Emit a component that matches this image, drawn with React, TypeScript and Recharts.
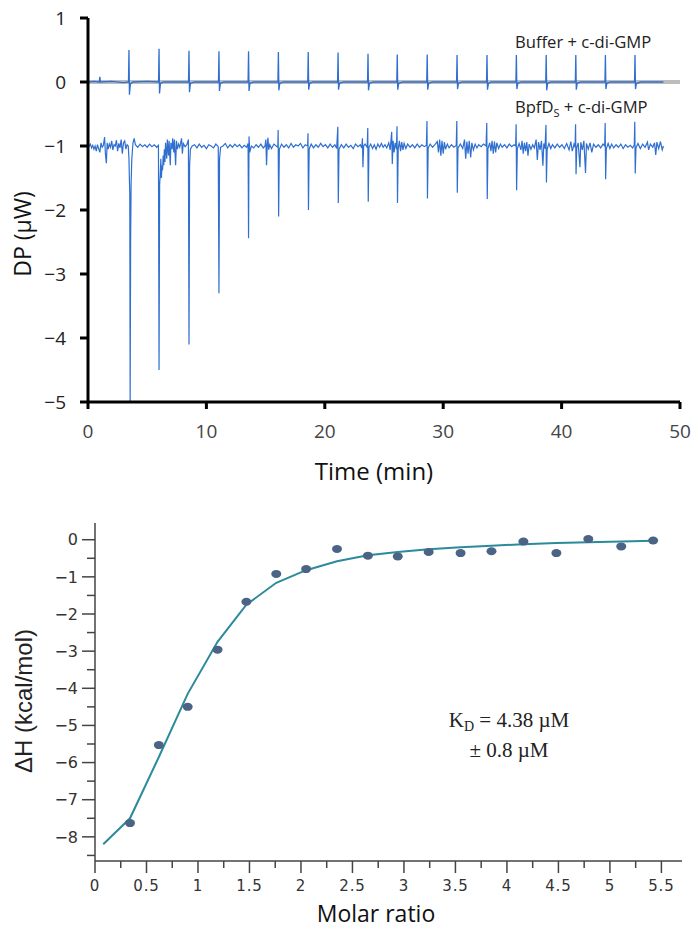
import {
  ComposedChart,
  Line,
  LineChart,
  Scatter,
  XAxis,
  YAxis,
} from "recharts";

// ---- top panel: raw ITC thermogram ----
const timeTicks = [0, 10, 20, 30, 40, 50];
const dpTicks = [-5, -4, -3, -2, -1, 0, 1];

const baselineGray: [number, number][] = [
  [0, 0],
  [50, 0],
];

const bufferTrace: [number, number][] = [
  [0, 0], [0.5, 0.01], [0.95, 0], [1.0, 0.08], [1.05, 0], [2.0, 0.01], [3.0, -0.01],
  [3.42, 0], [3.46, 0.5], [3.5, -0.2], [3.58, -0.03], [3.8, 0], [5.0, 0.01],
  [5.96, 0], [6.0, 0.52], [6.04, -0.18], [6.12, -0.02], [6.4, 0],
  [8.49, 0], [8.53, 0.49], [8.57, -0.16], [8.65, -0.02], [9.0, 0],
  [11.02, 0], [11.06, 0.48], [11.1, -0.14], [11.18, -0.02], [11.5, 0],
  [13.52, 0], [13.56, 0.48], [13.6, -0.14], [13.68, -0.02], [14.0, 0],
  [16.04, 0], [16.08, 0.47], [16.12, -0.13], [16.2, -0.02], [16.5, 0],
  [18.56, 0], [18.6, 0.47], [18.64, -0.12], [18.72, -0.02], [19.0, 0],
  [21.08, 0], [21.12, 0.46], [21.16, -0.12], [21.24, -0.02], [21.6, 0],
  [23.61, 0], [23.65, 0.44], [23.69, -0.13], [23.77, -0.02], [24.1, 0],
  [26.08, 0], [26.12, 0.43], [26.16, -0.12], [26.24, -0.02], [26.6, 0],
  [28.61, 0], [28.65, 0.43], [28.69, -0.12], [28.77, -0.02], [29.1, 0],
  [31.13, 0], [31.17, 0.42], [31.21, -0.11], [31.29, -0.02], [31.6, 0],
  [33.66, 0], [33.7, 0.42], [33.74, -0.12], [33.82, -0.02], [34.1, 0],
  [36.14, 0], [36.18, 0.42], [36.22, -0.11], [36.3, -0.02], [36.6, 0],
  [38.66, 0], [38.7, 0.42], [38.74, -0.13], [38.82, -0.02], [39.1, 0],
  [41.16, 0], [41.2, 0.42], [41.24, -0.12], [41.32, -0.02], [41.6, 0],
  [43.66, 0], [43.7, 0.42], [43.74, -0.11], [43.82, -0.02], [44.1, 0],
  [46.16, 0], [46.2, 0.42], [46.24, -0.11], [46.32, -0.02], [46.7, 0],
  [48.6, 0],
];

const bpfdTrace: [number, number][] = [
  [0.0, -0.98], [0.1, -1.0], [0.2, -0.97], [0.3, -1.03], [0.4, -0.99], [0.5, -1.05],
  [0.6, -1.0], [0.7, -1.08], [0.8, -0.98], [0.9, -1.04], [1.0, -1.1], [1.1, -0.95],
  [1.2, -1.02], [1.3, -0.99], [1.4, -0.86], [1.47, -1.12], [1.55, -1.27], [1.62, -0.95],
  [1.7, -1.05], [1.8, -0.97], [1.9, -1.02], [2.0, -0.92], [2.1, -1.06], [2.2, -0.98],
  [2.3, -1.0], [2.4, -0.91], [2.5, -1.08], [2.6, -0.96], [2.7, -1.03], [2.8, -0.9],
  [2.9, -1.12], [3.0, -0.95], [3.1, -0.92], [3.2, -1.05], [3.3, -0.98], [3.4, -1.0],
  [3.46, -1.2], [3.5, -1.55], [3.53, -1.75], [3.56, -5.0], [3.6, -2.5], [3.64, -1.6],
  [3.7, -1.2], [3.8, -0.95], [3.9, -0.88], [4.0, -0.98], [4.2, -1.02], [4.4, -0.97],
  [4.6, -1.01], [4.8, -0.98], [5.0, -1.02], [5.2, -0.97], [5.4, -1.01], [5.6, -0.98],
  [5.8, -1.02], [5.95, -0.99],
  [6.0, -4.5], [6.05, -1.6], [6.1, -1.45], [6.15, -1.2], [6.2, -1.5], [6.25, -1.3],
  [6.3, -1.38], [6.35, -1.15], [6.4, -1.3], [6.45, -1.05], [6.5, -1.25], [6.55, -0.95],
  [6.65, -1.2], [6.7, -0.9], [6.8, -1.15], [6.85, -0.92], [6.95, -1.3], [7.0, -0.95],
  [7.1, -1.05], [7.15, -0.88], [7.25, -1.1], [7.3, -0.9], [7.4, -1.3], [7.47, -0.92],
  [7.55, -1.05], [7.65, -0.97], [7.75, -1.02], [7.9, -0.88], [7.97, -1.12], [8.05, -0.96],
  [8.2, -1.01], [8.35, -0.98], [8.48, -0.9],
  [8.53, -4.1], [8.58, -1.3], [8.65, -1.05], [8.8, -1.0], [9.0, -0.98], [9.2, -1.03],
  [9.4, -0.97], [9.6, -1.02], [9.8, -0.99], [10.0, -1.04], [10.2, -0.98], [10.4, -1.0],
  [10.6, -1.03], [10.8, -0.97], [11.0, -1.01],
  [11.06, -3.3], [11.11, -1.2], [11.2, -1.02], [11.4, -1.0], [11.6, -0.96], [11.8, -1.03],
  [12.0, -0.98], [12.2, -1.02], [12.4, -0.97], [12.6, -1.01], [12.8, -0.98], [13.0, -1.03],
  [13.2, -0.99], [13.4, -1.02], [13.52, -0.96],
  [13.56, -2.44], [13.6, -0.85], [13.66, -1.1], [13.8, -1.0], [14.0, -1.03], [14.2, -0.98],
  [14.4, -1.02], [14.6, -0.97], [14.8, -1.03], [14.95, -1.0], [15.02, -0.9], [15.08, -1.3],
  [15.14, -0.98], [15.2, -0.87], [15.26, -1.06], [15.35, -0.98], [15.5, -1.04], [15.7, -0.97],
  [15.9, -1.0], [16.03, -1.02],
  [16.06, -0.75], [16.1, -2.1], [16.16, -1.05], [16.35, -0.97], [16.55, -1.02], [16.75, -0.98],
  [16.95, -1.03], [17.15, -0.96], [17.35, -1.02], [17.55, -0.98], [17.75, -1.0], [17.95, -0.96],
  [18.15, -1.03], [18.35, -0.98], [18.55, -1.0],
  [18.58, -0.8], [18.62, -2.0], [18.68, -1.05], [18.85, -0.97], [19.05, -1.03], [19.25, -0.98],
  [19.45, -1.02], [19.65, -0.96], [19.85, -1.01], [20.05, -0.98], [20.25, -1.03], [20.45, -0.97],
  [20.65, -1.02], [20.85, -0.98], [21.0, -1.04],
  [21.1, -0.7], [21.14, -1.89], [21.2, -1.05], [21.4, -0.98], [21.6, -1.03], [21.8, -0.97],
  [22.0, -1.02], [22.2, -0.99], [22.4, -1.04], [22.6, -0.97], [22.8, -1.01], [23.0, -0.98],
  [23.12, -1.03], [23.18, -0.88], [23.22, -1.33], [23.28, -1.0], [23.4, -0.97], [23.58, -1.02],
  [23.63, -0.72], [23.67, -1.87], [23.73, -1.02], [23.88, -0.97], [24.03, -1.04], [24.18, -0.98],
  [24.33, -1.05], [24.48, -0.97], [24.63, -1.02], [24.78, -0.96], [24.93, -1.02], [25.08, -0.98],
  [25.23, -1.03], [25.4, -0.95], [25.52, -1.06], [25.65, -0.78], [25.7, -1.28], [25.77, -0.92],
  [25.85, -1.1], [25.95, -0.95], [26.05, -1.05],
  [26.1, -0.69], [26.14, -1.89], [26.2, -1.05], [26.3, -0.92], [26.4, -1.08], [26.5, -0.94],
  [26.6, -1.06], [26.7, -0.96], [26.85, -1.04], [27.0, -0.97], [27.2, -1.02], [27.4, -0.98],
  [27.6, -1.03], [27.8, -0.97], [28.0, -1.02], [28.2, -0.98], [28.4, -1.01], [28.58, -0.99],
  [28.63, -0.61], [28.67, -1.82], [28.73, -1.03], [28.9, -0.97], [29.1, -1.02], [29.3, -0.98],
  [29.5, -0.93], [29.6, -1.1], [29.7, -0.9], [29.8, -1.15], [29.9, -0.92], [30.0, -1.12],
  [30.1, -0.94], [30.2, -1.05], [30.35, -0.97], [30.5, -1.03], [30.7, -0.98], [30.9, -1.02],
  [31.1, -0.99],
  [31.15, -0.61], [31.19, -1.73], [31.25, -1.03], [31.45, -0.97], [31.65, -1.04], [31.8, -0.9],
  [31.9, -1.2], [32.0, -0.93], [32.1, -1.12], [32.2, -0.92], [32.32, -1.18], [32.42, -0.95],
  [32.55, -1.06], [32.7, -0.97], [32.85, -1.03], [33.0, -0.98], [33.2, -1.01], [33.4, -0.97],
  [33.62, -1.0],
  [33.68, -0.64], [33.72, -1.83], [33.78, -1.04], [33.93, -0.95], [34.03, -1.08], [34.13, -0.92],
  [34.23, -1.12], [34.33, -0.93], [34.43, -1.1], [34.53, -0.95], [34.68, -1.04], [34.83, -0.97],
  [34.98, -1.02], [35.18, -0.98], [35.38, -1.03], [35.58, -0.97], [35.78, -1.01], [35.98, -0.98],
  [36.12, -1.0],
  [36.16, -0.66], [36.2, -1.69], [36.26, -1.04], [36.41, -0.96], [36.56, -1.06], [36.66, -0.92],
  [36.76, -1.12], [36.86, -0.95], [36.96, -1.08], [37.06, -0.94], [37.16, -1.15], [37.26, -0.97],
  [37.41, -1.05], [37.56, -0.98], [37.7, -1.03], [37.85, -0.9], [37.95, -1.22], [38.05, -0.94],
  [38.18, -1.06], [38.3, -0.92], [38.42, -1.31], [38.5, -0.96], [38.6, -1.04],
  [38.68, -0.67], [38.72, -1.57], [38.78, -1.05], [38.93, -0.96], [39.08, -1.04], [39.23, -0.98],
  [39.43, -1.03], [39.63, -0.97], [39.83, -1.02], [40.03, -0.98], [40.23, -1.04], [40.43, -0.96],
  [40.63, -1.06], [40.78, -0.93], [40.9, -1.08], [41.05, -0.97], [41.14, -1.02],
  [41.18, -0.66], [41.22, -1.44], [41.28, -1.03], [41.4, -0.95], [41.55, -1.33], [41.62, -0.94],
  [41.75, -1.06], [41.88, -0.92], [42.02, -1.42], [42.1, -0.96], [42.25, -1.05], [42.4, -0.95],
  [42.55, -1.1], [42.7, -0.97], [42.9, -1.02], [43.1, -0.98], [43.3, -1.03], [43.5, -0.97],
  [43.64, -1.0],
  [43.68, -0.64], [43.72, -1.52], [43.78, -1.04], [43.93, -0.96], [44.08, -1.04], [44.23, -0.97],
  [44.4, -1.03], [44.6, -0.98], [44.8, -1.02], [45.0, -0.97], [45.2, -1.04], [45.4, -0.98],
  [45.6, -1.02], [45.8, -0.99], [46.0, -1.03], [46.14, -0.98],
  [46.18, -0.62], [46.22, -1.43], [46.28, -1.03], [46.45, -0.96], [46.65, -1.04], [46.85, -0.97],
  [47.05, -1.02], [47.25, -0.94], [47.35, -1.06], [47.5, -0.97], [47.7, -1.02], [47.85, -0.95],
  [47.95, -1.14], [48.05, -0.94], [48.2, -1.04], [48.35, -0.93], [48.5, -1.06], [48.6, -1.0],
];

// ---- bottom panel: integrated heats ----
const molarTicks = [
  0, 0.25, 0.5, 0.75, 1, 1.25, 1.5, 1.75, 2, 2.25, 2.5, 2.75, 3, 3.25, 3.5, 3.75, 4, 4.25,
  4.5, 4.75, 5, 5.25, 5.5,
];
const dhTicks = [
  -8.5, -8, -7.5, -7, -6.5, -6, -5.5, -5, -4.5, -4, -3.5, -3, -2.5, -2, -1.5, -1, -0.5, 0,
];

const molarRatio = [
  0.34, 0.62, 0.9, 1.19, 1.47, 1.76, 2.05, 2.35, 2.65, 2.94, 3.24, 3.55, 3.85, 4.16, 4.48,
  4.79, 5.11, 5.42,
];
const heatMeasured = [
  -7.63, -5.53, -4.5, -2.96, -1.67, -0.92, -0.79, -0.25, -0.43, -0.45, -0.33, -0.36, -0.31,
  -0.05, -0.36, 0.02, -0.18, -0.02,
];
const fitRatio = [
  0.08, 0.34, 0.62, 0.9, 1.19, 1.47, 1.76, 2.05, 2.35, 2.65, 2.94, 3.24, 3.55, 3.85, 4.16,
  4.48, 4.79, 5.11, 5.42,
];
const heatFit = [
  -8.2, -7.5, -5.85, -4.15, -2.75, -1.75, -1.16, -0.82, -0.58, -0.42, -0.33, -0.26, -0.2,
  -0.16, -0.12, -0.09, -0.07, -0.05, -0.03,
];

const BLUE = "#2f6fd0";
const TEAL = "#2b8a9b";
const DOT = "#4b6486";
const SANS = "'Open Sans', sans-serif";

const toPts = (arr: [number, number][]) => arr.map(([t, dp]) => ({ t, dp }));
const minus = (v: number) => String(v).replace("-", "\u2212");

const points = molarRatio.map((x, i) => ({ x, y: heatMeasured[i] }));
const fit = fitRatio.map((x, i) => ({ x, y: heatFit[i] }));

function DhTick({ x, y, payload }: any) {
  const v = payload.value as number;
  const major = Number.isInteger(v);
  return (
    <g>
      <line x1={x} x2={x - (major ? 13 : 8)} y1={y} y2={y} stroke="#444" strokeWidth={1.5} />
      {major && (
        <text
          x={x - 17}
          y={y}
          dy="0.36em"
          textAnchor="end"
          fontFamily="'DejaVu Sans', sans-serif"
          fontSize={16}
          fill="#333"
        >
          {minus(v)}
        </text>
      )}
    </g>
  );
}

function MolarTick({ x, y, payload }: any) {
  const v = payload.value as number;
  const major = Number.isInteger(v * 2);
  return (
    <g>
      <line x1={x} x2={x} y1={y} y2={y + (major ? 12 : 7)} stroke="#444" strokeWidth={1.5} />
      {major && (
        <text
          x={x}
          y={y + 25}
          dy="0.36em"
          textAnchor="middle"
          fontFamily="'DejaVu Sans', sans-serif"
          fontSize={15}
          letterSpacing={0.8}
          fill="#333"
        >
          {v}
        </text>
      )}
    </g>
  );
}

function Dot({ cx, cy }: any) {
  return <ellipse cx={cx} cy={cy} rx={5} ry={4} fill={DOT} />;
}

export default function App() {
  return (
    <div style={{ position: "absolute", left: 0, top: 0, width: 698, height: 938, background: "#fff" }}>
      <div style={{ position: "absolute", left: 0, top: 0 }}>
        <LineChart width={698} height={492} margin={{ top: 18, right: 18, left: 28, bottom: 40 }}>
          <XAxis
            dataKey="t"
            type="number"
            domain={[0, 50]}
            ticks={timeTicks}
            interval={0}
            height={50}
            axisLine={{ stroke: "#000", strokeWidth: 3 }}
            tickLine={{ stroke: "#000", strokeWidth: 3 }}
            tickSize={7}
            tickMargin={16}
            tick={{ fill: "#444", fontSize: 19, fontFamily: SANS }}
          />
          <YAxis
            type="number"
            domain={[-5, 1]}
            ticks={dpTicks}
            interval={0}
            width={60}
            axisLine={{ stroke: "#000", strokeWidth: 3 }}
            tickLine={{ stroke: "#000", strokeWidth: 3 }}
            tickSize={8}
            tickMargin={14}
            tickFormatter={minus}
            tick={{ fill: "#222", fontSize: 19, fontFamily: SANS }}
          />
          <Line data={toPts(baselineGray)} dataKey="dp" stroke="#bdbdbd" strokeWidth={4} dot={false} isAnimationActive={false} />
          <Line data={toPts(bufferTrace)} dataKey="dp" stroke={BLUE} strokeWidth={1.3} dot={false} isAnimationActive={false} />
          <Line data={toPts(bpfdTrace)} dataKey="dp" stroke={BLUE} strokeWidth={1.2} dot={false} isAnimationActive={false} />
          <text x={515} y={48} fontFamily={SANS} fontSize={16.6} fill="#222">
            Buffer + c-di-GMP
          </text>
          <text x={515} y={113} fontFamily={SANS} fontSize={16.6} fill="#222">
            BpfD
            <tspan fontSize={11} dy={4}>S</tspan>
            <tspan dy={-4}> + c-di-GMP</tspan>
          </text>
          <text x={374} y={480} textAnchor="middle" fontFamily={SANS} fontSize={24} fill="#111">
            Time (min)
          </text>
          <text
            x={22}
            y={234}
            textAnchor="middle"
            dominantBaseline="central"
            transform="rotate(-90 22 234)"
            fontFamily={SANS}
            fontSize={23}
            fill="#111"
          >
            DP (µW)
          </text>
        </LineChart>
      </div>

      <div style={{ position: "absolute", left: 0, top: 480 }}>
        <ComposedChart width={698} height={458} margin={{ top: 43, right: 16, left: 35, bottom: 37 }}>
          <XAxis
            dataKey="x"
            type="number"
            domain={[0, 5.7]}
            ticks={molarTicks}
            interval={0}
            height={40}
            axisLine={{ stroke: "#444", strokeWidth: 1.5 }}
            tickLine={false}
            tickSize={0}
            tickMargin={0}
            tick={<MolarTick />}
          />
          <YAxis
            dataKey="y"
            type="number"
            domain={[-8.65, 0.45]}
            ticks={dhTicks}
            interval={0}
            width={60}
            axisLine={{ stroke: "#444", strokeWidth: 1.5 }}
            tickLine={false}
            tickSize={0}
            tickMargin={0}
            tick={<DhTick />}
          />
          <Line data={fit} dataKey="y" stroke={TEAL} strokeWidth={2} dot={false} isAnimationActive={false} />
          <Scatter data={points} dataKey="y" fill={DOT} shape={<Dot />} isAnimationActive={false} />
          <text
            x={23}
            y={221}
            textAnchor="middle"
            dominantBaseline="central"
            transform="rotate(-90 23 221)"
            fontFamily="'Liberation Sans', Arial, sans-serif"
            fontSize={24}
            fill="#222"
          >
            ΔH (kcal/mol)
          </text>
          <text x={376} y={442} textAnchor="middle" fontFamily={SANS} fontSize={23} fill="#111">
            Molar ratio
          </text>
          <text x={509} y={247} textAnchor="middle" fontFamily="'Liberation Serif', serif" fontSize={21} fill="#222">
            K<tspan fontSize={14} dy={4}>D</tspan>
            <tspan dy={-4}> = 4.38 µM</tspan>
          </text>
          <text x={509} y={277} textAnchor="middle" fontFamily="'Liberation Serif', serif" fontSize={21} fill="#222">
            ± 0.8 µM
          </text>
        </ComposedChart>
      </div>
    </div>
  );
}
